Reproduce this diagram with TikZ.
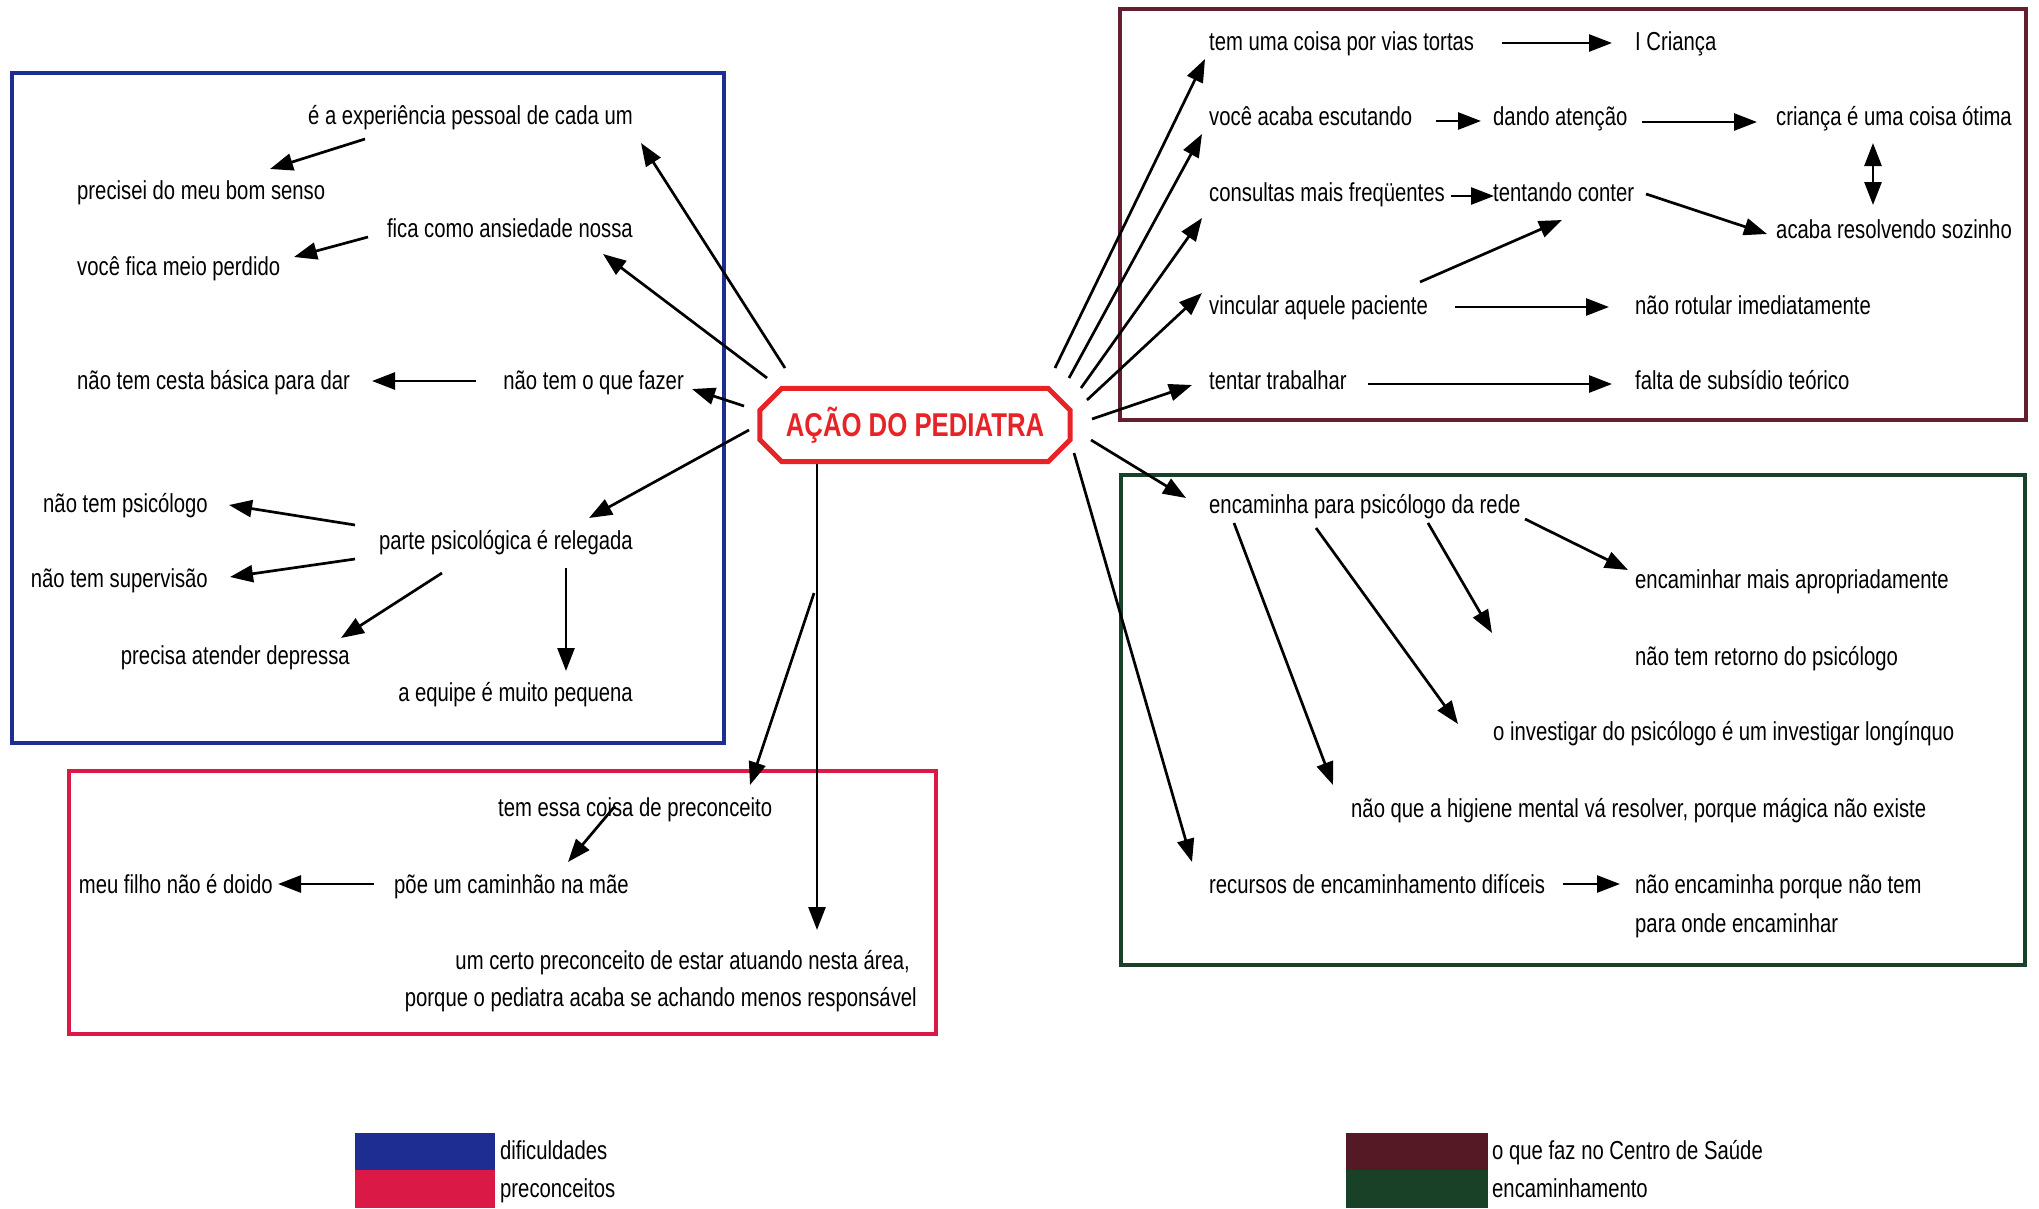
\documentclass[tikz,border=0pt]{standalone}
\usepackage{fontspec}
\setmainfont{Liberation Sans}[FakeStretch=0.78]
\usetikzlibrary{arrows.meta}
\definecolor{cblue}{RGB}{30,45,145}
\definecolor{cpink}{RGB}{218,25,70}
\definecolor{cmaroon}{RGB}{100,30,45}
\definecolor{cgreen}{RGB}{25,65,40}
\definecolor{cred}{RGB}{232,35,40}
\tikzset{
  txt/.style={font=\fontsize{26}{30}\selectfont, inner sep=0pt, anchor=base west},
  txtr/.style={txt, anchor=base east},
  arr/.style={line width=2.7pt, -{Triangle[length=23pt,width=17pt]}},
  darr/.style={line width=2.7pt, {Triangle[length=23pt,width=17pt]}-{Triangle[length=23pt,width=17pt]}},
  framebox/.style={line width=4.5pt},
  central/.style={rectangle, minimum width=310pt, minimum height=73pt, inner sep=0pt,
     text=cred, font=\fontsize{33}{36}\selectfont\bfseries},
  octo/.style={draw=cred, line width=5pt, fill=white, line join=miter}
}
\begin{document}
\begin{tikzpicture}[x=1pt,y=-1pt]
\useasboundingbox (0,0) rectangle (2039,1208);
\fill[white] (0,0) rectangle (2039,1208);

% frames
\draw[framebox, cblue] (12,73) rectangle (724,743);
\draw[framebox, cmaroon] (1120,9) rectangle (2026,420);
\draw[framebox, cgreen] (1121,475) rectangle (2025,965);
\draw[framebox, cpink] (69,771) rectangle (936,1034);

% central node (octagonal outline drawn around it)
\node[central] (c) at (915,425) {};
\draw[octo] ([xshift=22pt]c.north west) -- ([xshift=-22pt]c.north east)
  -- ([yshift=-22pt]c.north east) -- ([yshift=22pt]c.south east)
  -- ([xshift=-22pt]c.south east) -- ([xshift=22pt]c.south west)
  -- ([yshift=22pt]c.south west) -- ([yshift=-22pt]c.north west) -- cycle;
\node[central] (ct) at (c.center) {AÇÃO DO PEDIATRA};

% ---------- blue: dificuldades
\node[txtr] (b1) at (633,124) {é a experiência pessoal de cada um};
\node[txt]  (b2) at (77,199) {precisei do meu bom senso};
\node[txtr] (b3) at (633,237) {fica como ansiedade nossa};
\node[txt]  (b4) at (77,275) {você fica meio perdido};
\node[txt]  (b5) at (77,389) {não tem cesta básica para dar};
\node[txtr] (b6) at (684,389) {não tem o que fazer};
\node[txtr] (b7) at (208,512) {não tem psicólogo};
\node[txtr] (b8) at (633,549) {parte psicológica é relegada};
\node[txtr] (b9) at (208,587) {não tem supervisão};
\node[txtr] (b10) at (350,664) {precisa atender depressa};
\node[txtr] (b11) at (633,701) {a equipe é muito pequena};

% ---------- pink: preconceitos
\node[txt]  (p1) at (498,816) {tem essa coisa de preconceito};
\node[txt]  (p2) at (394,893) {põe um caminhão na mãe};
\node[txtr] (p3) at (273,893) {meu filho não é doido};
\node[txtr] (p4) at (910,969) {um certo preconceito de estar atuando nesta área,};
\node[txtr] (p5) at (917,1006) {porque o pediatra acaba se achando menos responsável};

% ---------- maroon: o que faz
\node[txt] (m1) at (1209,50) {tem uma coisa por vias tortas};
\node[txt] (m2) at (1635,50) {I Criança};
\node[txt] (m3) at (1209,125) {você acaba escutando};
\node[txt] (m4) at (1493,125) {dando atenção};
\node[txt] (m5) at (1776,125) {criança é uma coisa ótima};
\node[txt] (m6) at (1209,201) {consultas mais freqüentes};
\node[txt] (m7) at (1493,201) {tentando conter};
\node[txt] (m8) at (1776,238) {acaba resolvendo sozinho};
\node[txt] (m9) at (1209,314) {vincular aquele paciente};
\node[txt] (m10) at (1635,314) {não rotular imediatamente};
\node[txt] (m11) at (1209,389) {tentar trabalhar};
\node[txt] (m12) at (1635,389) {falta de subsídio teórico};

% ---------- green: encaminhamento
\node[txt] (g1) at (1209,513) {encaminha para psicólogo da rede};
\node[txt] (g2) at (1635,588) {encaminhar mais apropriadamente};
\node[txt] (g3) at (1635,665) {não tem retorno do psicólogo};
\node[txt] (g4) at (1493,740) {o investigar do psicólogo é um investigar longínquo};
\node[txt] (g5) at (1351,817) {não que a higiene mental vá resolver, porque mágica não existe};
\node[txt] (g6) at (1209,893) {recursos de encaminhamento difíceis};
\node[txt] (g7) at (1635,893) {não encaminha porque não tem};
\node[txt] (g8) at (1635,932) {para onde encaminhar};

% ---------- connector end points
\coordinate (cb1) at (785,368);  \coordinate (tb1) at (641,143);
\coordinate (cb3) at (767,378);  \coordinate (tb3) at (603,254);
\coordinate (cb6) at (744,406);  \coordinate (tb6) at (692,389);
\coordinate (cb8) at (749,430);  \coordinate (tb8) at (589,518);
\coordinate (cp1) at (814,593);  \coordinate (tp1) at (750,785);
\coordinate (cp4) at (817,464);  \coordinate (tp4) at (817,930);
\coordinate (cm1) at (1055,368); \coordinate (tm1) at (1205,59);
\coordinate (cm3) at (1069,378); \coordinate (tm3) at (1202,134);
\coordinate (cm6) at (1081,388); \coordinate (tm6) at (1202,218);
\coordinate (cm9) at (1087,400); \coordinate (tm9) at (1202,293);
\coordinate (cm11) at (1092,419); \coordinate (tm11) at (1192,385);
\coordinate (cg1) at (1091,440); \coordinate (tg1) at (1186,498);
\coordinate (cg6) at (1074,453); \coordinate (tg6) at (1192,862);

% central connectors
\draw[arr] (cb1) -- (tb1);
\draw[arr] (cb3) -- (tb3);
\draw[arr] (cb6) -- (tb6);
\draw[arr] (cb8) -- (tb8);
\draw[arr] (cp1) -- (tp1);
\draw[arr] (cp4) -- (tp4);
\draw[arr] (cm1) -- (tm1);
\draw[arr] (cm3) -- (tm3);
\draw[arr] (cm6) -- (tm6);
\draw[arr] (cm9) -- (tm9);
\draw[arr] (cm11) -- (tm11);
\draw[arr] (cg1) -- (tg1);
\draw[arr] (cg6) -- (tg6);

% blue connectors
\coordinate (s1) at (365,139); \coordinate (e1) at (270,169);
\coordinate (s2) at (368,237); \coordinate (e2) at (294,257);
\coordinate (s3) at (476,381); \coordinate (e3) at (372,381);
\coordinate (s4) at (355,525); \coordinate (e4) at (229,505);
\coordinate (s5) at (355,559); \coordinate (e5) at (230,577);
\coordinate (s6) at (442,573); \coordinate (e6) at (341,638);
\coordinate (s7) at (566,568); \coordinate (e7) at (566,671);
\draw[arr] (s1) -- (e1);
\draw[arr] (s2) -- (e2);
\draw[arr] (s3) -- (e3);
\draw[arr] (s4) -- (e4);
\draw[arr] (s5) -- (e5);
\draw[arr] (s6) -- (e6);
\draw[arr] (s7) -- (e7);

% pink connectors
\coordinate (s8) at (615,806); \coordinate (e8) at (568,862);
\coordinate (s9) at (374,884); \coordinate (e9) at (278,884);
\draw[arr] (s8) -- (e8);
\draw[arr] (s9) -- (e9);

% maroon connectors
\coordinate (s10) at (1502,43);  \coordinate (e10) at (1612,43);
\coordinate (s11) at (1436,121); \coordinate (e11) at (1481,121);
\coordinate (s12) at (1642,122); \coordinate (e12) at (1757,122);
\coordinate (s13) at (1451,196); \coordinate (e13) at (1494,196);
\coordinate (s14) at (1646,194); \coordinate (e14) at (1767,234);
\coordinate (s15) at (1873,143); \coordinate (e15) at (1873,205);
\coordinate (s16) at (1420,282); \coordinate (e16) at (1562,220);
\coordinate (s17) at (1455,307); \coordinate (e17) at (1609,307);
\coordinate (s18) at (1368,384); \coordinate (e18) at (1612,384);
\draw[arr] (s10) -- (e10);
\draw[arr] (s11) -- (e11);
\draw[arr] (s12) -- (e12);
\draw[arr] (s13) -- (e13);
\draw[arr] (s14) -- (e14);
\draw[darr] (s15) -- (e15);
\draw[arr] (s16) -- (e16);
\draw[arr] (s17) -- (e17);
\draw[arr] (s18) -- (e18);

% green connectors
\coordinate (s19) at (1525,519); \coordinate (e19) at (1628,570);
\coordinate (s20) at (1428,523); \coordinate (e20) at (1492,633);
\coordinate (s21) at (1316,528); \coordinate (e21) at (1458,724);
\coordinate (s22) at (1234,523); \coordinate (e22) at (1333,785);
\coordinate (s23) at (1563,884); \coordinate (e23) at (1620,884);
\draw[arr] (s19) -- (e19);
\draw[arr] (s20) -- (e20);
\draw[arr] (s21) -- (e21);
\draw[arr] (s22) -- (e22);
\draw[arr] (s23) -- (e23);

% legend
\fill[cblue] (355,1133) rectangle (495,1170);
\fill[cpink] (355,1170) rectangle (495,1208);
\fill[cmaroon!85!black] (1346,1133) rectangle (1488,1170);
\fill[cgreen] (1346,1170) rectangle (1488,1208);
\node[txt] (l1) at (500,1159) {dificuldades};
\node[txt] (l2) at (500,1197) {preconceitos};
\node[txt] (l3) at (1492,1159) {o que faz no Centro de Saúde};
\node[txt] (l4) at (1492,1197) {encaminhamento};
\end{tikzpicture}
\end{document}
